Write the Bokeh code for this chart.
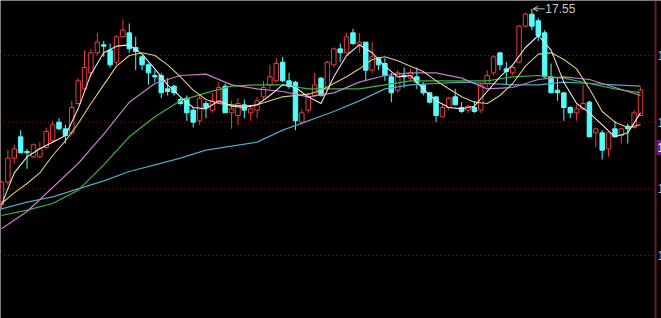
import numpy as np
from bokeh.plotting import figure
from bokeh.models import Range1d, ColumnDataSource, Arrow, OpenHead, Span
from bokeh.core.properties import value
from bokeh.embed import file_html
from bokeh.resources import INLINE

# Daily candles: open / high / low / close
opens = [16.08, 16.25, 16.43, 16.59, 16.48, 16.44, 16.44, 16.51, 16.56, 16.70,
         16.65, 16.62, 16.84, 16.95, 17.07, 17.22, 17.28, 17.24, 17.15, 17.34,
         17.37, 17.26, 17.19, 17.13, 17.05, 17.05, 16.95, 16.97, 16.87, 16.88,
         16.79, 16.71, 16.84, 16.79, 16.85, 16.97, 16.77, 16.75, 16.83, 16.77,
         16.79, 16.89, 16.98, 17.01, 17.15, 17.01, 17.00, 16.70, 16.79, 16.90,
         17.03, 16.95, 17.13, 17.25, 17.22, 17.37, 17.28, 17.30, 17.09, 17.18,
         17.14, 17.04, 16.94, 17.05, 17.03, 17.04, 16.98, 16.92, 16.89, 16.74,
         16.81, 16.89, 16.81, 16.79, 16.81, 16.79, 16.99, 17.07, 17.22, 17.10,
         17.07, 17.15, 17.42, 17.51, 17.46, 17.37, 17.04, 16.94, 16.92, 16.81,
         16.77, 16.80, 16.85, 16.62, 16.62, 16.50, 16.65, 16.60, 16.67, 16.66,
         16.75]
highs = [16.26, 16.49, 16.53, 16.64, 16.50, 16.54, 16.55, 16.66, 16.71, 16.73,
         16.68, 16.86, 17.03, 17.24, 17.25, 17.37, 17.31, 17.29, 17.35, 17.47,
         17.44, 17.34, 17.20, 17.14, 17.09, 17.07, 17.03, 16.98, 16.89, 16.90,
         16.81, 16.90, 16.86, 16.92, 17.00, 16.99, 16.86, 16.88, 16.87, 16.83,
         16.89, 17.01, 17.13, 17.18, 17.19, 17.07, 17.01, 16.80, 16.92, 17.07,
         17.04, 17.16, 17.26, 17.29, 17.37, 17.40, 17.37, 17.30, 17.30, 17.19,
         17.18, 17.07, 17.09, 17.11, 17.10, 17.11, 17.00, 16.92, 16.89, 16.84,
         16.89, 16.95, 16.85, 16.83, 16.86, 16.99, 17.09, 17.20, 17.22, 17.15,
         17.13, 17.43, 17.52, 17.55, 17.48, 17.39, 17.14, 17.04, 16.92, 16.82,
         16.83, 16.98, 16.86, 16.66, 16.64, 16.62, 16.71, 16.66, 16.69, 16.79,
         16.96]
lows = [16.04, 16.23, 16.39, 16.47, 16.35, 16.43, 16.43, 16.50, 16.55, 16.64,
        16.54, 16.60, 16.83, 16.94, 17.04, 17.20, 17.19, 17.11, 17.13, 17.33,
        17.22, 17.09, 17.09, 16.98, 17.00, 16.88, 16.90, 16.90, 16.83, 16.71,
        16.66, 16.68, 16.73, 16.77, 16.84, 16.77, 16.65, 16.68, 16.73, 16.71,
        16.73, 16.86, 16.95, 17.00, 17.00, 16.95, 16.64, 16.68, 16.77, 16.89,
        16.89, 16.94, 17.11, 17.15, 17.22, 17.28, 17.22, 17.01, 17.07, 17.09,
        17.01, 16.85, 16.92, 16.96, 17.01, 16.95, 16.90, 16.84, 16.70, 16.74,
        16.79, 16.83, 16.77, 16.77, 16.77, 16.77, 16.96, 17.05, 17.09, 16.98,
        17.05, 17.14, 17.41, 17.39, 17.31, 17.03, 16.92, 16.86, 16.71, 16.73,
        16.71, 16.79, 16.59, 16.51, 16.42, 16.44, 16.59, 16.54, 16.54, 16.65,
        16.75]
closes = [16.25, 16.43, 16.50, 16.47, 16.47, 16.53, 16.50, 16.63, 16.68, 16.65,
          16.60, 16.81, 17.01, 17.11, 17.22, 17.30, 17.27, 17.13, 17.34, 17.39,
          17.25, 17.23, 17.13, 17.07, 17.04, 16.92, 16.93, 16.92, 16.84, 16.77,
          16.70, 16.88, 16.81, 16.86, 16.96, 16.77, 16.80, 16.84, 16.79, 16.80,
          16.86, 16.96, 17.04, 17.14, 17.01, 16.97, 16.71, 16.77, 16.89, 16.98,
          16.90, 17.15, 17.25, 17.22, 17.34, 17.29, 17.30, 17.09, 17.19, 17.13,
          17.05, 16.92, 17.07, 17.04, 17.07, 17.00, 16.92, 16.85, 16.75, 16.81,
          16.88, 16.83, 16.78, 16.82, 16.78, 16.98, 17.05, 17.19, 17.13, 17.08,
          17.11, 17.42, 17.51, 17.42, 17.35, 17.04, 16.92, 16.92, 16.81, 16.77,
          16.80, 16.84, 16.59, 16.65, 16.49, 16.62, 16.59, 16.65, 16.65, 16.77,
          16.94]

# Moving averages, sampled every 2nd bar (fast) and every 4th bar (slow)
fast_idx = list(range(0, 101, 2))
slow_idx = list(range(0, 101, 4))
ma5 = [16.08, 16.32, 16.44, 16.50, 16.55, 16.60, 16.80, 17.06, 17.22, 17.27,
       17.28, 17.21, 17.10, 16.98, 16.89, 16.81, 16.80, 16.86, 16.82, 16.81,
       16.83, 16.90, 16.98, 16.96, 16.89, 16.84, 17.04, 17.20, 17.28, 17.22,
       17.12, 17.04, 17.05, 16.95, 16.86, 16.81, 16.80, 16.82, 16.93, 17.04,
       17.13, 17.26, 17.35, 17.24, 17.00, 16.84, 16.77, 16.68, 16.59, 16.62,
       16.77]
ma10 = [16.09, 16.17, 16.24, 16.32, 16.45, 16.56, 16.69, 16.84, 16.98, 17.12,
        17.20, 17.22, 17.20, 17.13, 17.04, 16.94, 16.87, 16.84, 16.83, 16.82,
        16.83, 16.86, 16.89, 16.90, 16.91, 16.94, 16.99, 17.04, 17.10, 17.17,
        17.19, 17.16, 17.12, 17.08, 17.01, 16.95, 16.89, 16.85, 16.84, 16.90,
        16.99, 17.12, 17.21, 17.22, 17.17, 17.10, 16.95, 16.78, 16.70, 16.66,
        16.68]
ma20 = [15.90, 16.03, 16.21, 16.39, 16.61, 16.85, 16.99, 17.05, 17.06, 16.98,
        16.95, 16.93, 16.89, 16.92, 17.00, 17.05, 17.07, 17.07, 17.03, 16.95,
        16.96, 17.02, 17.04, 17.02, 16.96, 16.90]
ma30 = [16.00, 16.04, 16.09, 16.19, 16.38, 16.59, 16.74, 16.86, 16.92, 16.97,
        16.98, 16.98, 16.95, 16.95, 16.95, 16.98, 17.01, 17.01, 17.01, 17.01,
        17.04, 17.05, 17.03, 16.99, 16.95, 16.92]
ma60 = [16.05, 16.10, 16.14, 16.20, 16.26, 16.33, 16.38, 16.43, 16.49, 16.52,
        16.55, 16.64, 16.71, 16.78, 16.86, 16.95, 16.98, 16.99, 17.00, 16.99,
        16.98, 16.98, 17.00, 16.99, 16.98, 16.97]

# Horizontal reference levels on the price scale
grid_levels = [17.20, 16.70, 16.20, 15.70]
last_marker = 16.51

UP = "#f03c3c"
DOWN = "#54fcfc"
BG = "#000000"

n = len(closes)
idx = np.arange(n)
o = np.array(opens); c = np.array(closes)
h = np.array(highs); l = np.array(lows)
up = c >= o
body_top = np.maximum(o, c)
body_bot = np.minimum(o, c)
body_bot = np.where(body_top - body_bot < 0.004, body_top - 0.004, body_bot)

p = figure(width=661, height=318, output_backend="svg", toolbar_location=None,
           x_range=Range1d(-0.156, 103.28), y_range=Range1d(15.2275, 17.6125),
           x_axis_type=None, y_axis_type=None, min_border=0,
           background_fill_color=BG, border_fill_color=BG, outline_line_color=None)
p.grid.visible = False

axis_x = 102.35

# dotted grid levels
p.segment(x0=[-0.2] * len(grid_levels), x1=[axis_x] * len(grid_levels),
          y0=grid_levels, y1=grid_levels, line_color="#8a2222",
          line_width=1, line_dash="1 3")

# candles
up_src = ColumnDataSource(dict(x=idx[up], h=h[up], l=l[up], t=body_top[up], b=body_bot[up]))
dn_src = ColumnDataSource(dict(x=idx[~up], h=h[~up], l=l[~up], t=body_top[~up], b=body_bot[~up]))
p.segment(x0="x", x1="x", y0="l", y1="h", source=up_src, line_color=UP, line_width=1)
p.segment(x0="x", x1="x", y0="l", y1="h", source=dn_src, line_color=DOWN, line_width=1)
p.vbar(x="x", top="t", bottom="b", width=0.7, source=up_src,
       fill_color=BG, line_color=UP, line_width=1)
p.vbar(x="x", top="t", bottom="b", width=0.7, source=dn_src,
       fill_color=DOWN, line_color=DOWN, line_width=1)

# moving averages
p.line(slow_idx, ma60, line_color="#4aa8c8", line_width=1.2)
p.line(slow_idx, ma30, line_color="#3cb43c", line_width=1.2)
p.line(slow_idx, ma20, line_color="#c87cc8", line_width=1.2)
p.line(fast_idx, ma10, line_color="#dccc78", line_width=1.1)
p.line(fast_idx, ma5, line_color="#e8e8e8", line_width=1.1)

# highest-high marker
peak = int(np.argmax(h))
p.add_layout(Arrow(end=OpenHead(size=5, line_color="#c8c8c8", line_width=1),
                   x_start=peak + 2.0, y_start=h[peak], x_end=peak + 0.2, y_end=h[peak],
                   line_color="#c8c8c8", line_width=1))
p.text(x=[peak + 2.1], y=[h[peak]], text=[f"{h[peak]:.2f}"],
       text_font=value("Liberation Sans"), text_font_size="12px",
       text_color="#c8c8c8", text_baseline="middle", text_align="left")

# right price scale (mostly outside the visible window)
p.add_layout(Span(location=axis_x, dimension="height", line_color="#701a1a", line_width=2))
p.text(x=[axis_x + 0.3] * len(grid_levels), y=grid_levels,
       text=[f"{v:.2f}" for v in grid_levels],
       text_font=value("Liberation Sans"), text_font_size="12px",
       text_color="#b8b8b8", text_baseline="middle", text_align="left")
p.quad(left=[axis_x + 0.15], right=[104.0], bottom=[last_marker - 0.056],
       top=[last_marker + 0.056], fill_color="#5a2288", line_color=None)
p.text(x=[axis_x + 0.3], y=[last_marker], text=[f"{last_marker:.2f}"],
       text_font=value("Liberation Sans"), text_font_size="12px",
       text_color="#ffffff", text_baseline="middle", text_align="left")

open("out.html", "w").write(file_html(p, INLINE))
